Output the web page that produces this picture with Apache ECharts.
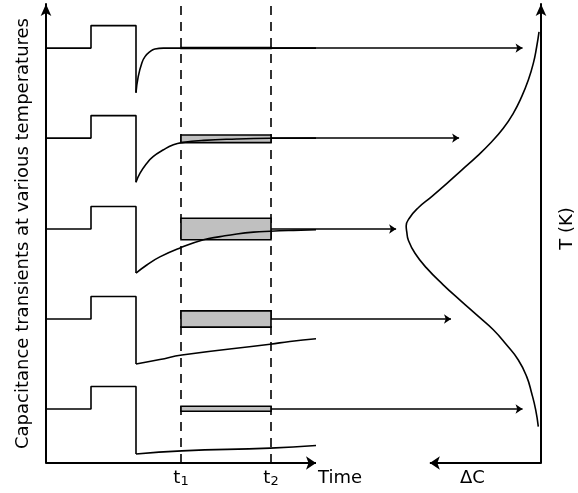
<!DOCTYPE html>
<html><head><meta charset="utf-8">
<script src="https://cdn.jsdelivr.net/npm/echarts@6/dist/echarts.min.js"></script>
<style>html,body{margin:0;padding:0;background:#fff}#c{width:578px;height:493px}</style>
</head><body><div id="c"></div>
<script>
// ---- tick labels / names ----
const tickValues = [30, 50];
const tickLabels = [['t','1'], ['t','2']];
const leftTitle = 'Capacitance transients at various temperatures';
const rightTitle = 'T (K)';
const timeLabel = 'Time';
const dcLabel = '\u0394C';

// ---- transients: [time, capacitance] (one row per temperature) ----
const pulse1 = [[0,92.2],[10,92.2],[10,97.2],[20,97.2],[20,82.3]];
const pulse2 = [[0,72.2],[10,72.2],[10,77.2],[20,77.2],[20,62.4]];
const pulse3 = [[0,52.0],[10,52.0],[10,57.0],[20,57.0],[20,42.2]];
const pulse4 = [[0,32.0],[10,32.0],[10,37.0],[20,37.0],[20,22.0]];
const pulse5 = [[0,12.0],[10,12.0],[10,17.0],[20,17.0],[20,2.0]];

const decay1 = [[20,82.3],[20.5,85.9],[21.3,88.9],[22,90.3],[23.1,91.4],[24.2,92.0],[26.1,92.2],[30,92.2],[60,92.2]];
const decay2 = [[20,62.4],[20.9,64.4],[22.4,66.6],[23.8,68.1],[26.1,69.6],[28.3,70.7],[30.2,71.2],[35,71.7],[42.4,72.0],[49.8,72.15],[60,72.2]];
const decay3 = [[20,42.2],[22.4,44.0],[25.3,45.8],[29.8,47.8],[35,49.6],[38.7,50.3],[42.4,50.9],[46.1,51.3],[49.8,51.5],[55,51.7],[60,51.85]];
const decay4 = [[20,22.0],[25.3,23.0],[30.2,24.0],[49.8,26.4],[54.2,27.0],[60,27.6]];
const decay5 = [[20,2.0],[30.2,2.7],[49.8,3.3],[60,3.9]];

// ---- rate-window boxes: [t1, t2, low, high] ----
const boxes = [[30,50,92.1,92.3],[30,50,71.2,72.9],[30,50,49.6,54.4],[30,50,30.2,33.8],[30,50,11.5,12.6]];

// ---- arrows from each row to the DLTS spectrum: [startTime, level, endTime] ----
const rowArrows = [[50,92.2,105.9],[50,72.2,91.8],[50,52.0,77.8],[50,32.0,90.0],[50,12.0,105.9]];

// ---- DLTS spectrum: [deltaC, T] ----
const spectrum = [[0.6,8.1],[1.18,11.8],[2.07,15.5],[3.18,19.2],[5.04,22.9],[7.62,26.2],[10.6,29.6],[14.29,32.9],[18.0,36.2],[21.73,39.6],[25.4,43.3],[28.0,46.6],[29.49,49.56],[29.82,51.33],[29.96,52.67],[29.22,54.44],[27.33,56.67],[24.29,59.2],[20.96,62.1],[17.62,65.1],[14.29,68.1],[11.33,71.0],[8.38,74.4],[6.16,77.7],[4.29,81.4],[2.82,85.1],[1.71,88.8],[0.96,92.5],[0.44,95.8]];

// ---- axes arrows / window lines ----
const timeAxis = [[0,0],[60,0]];
const dcAxis = [[0,0],[24.7,0]];
const windowLines = [[[30,0],[30,102.9]],[[50,0],[50,102.9]]];

const FONT = 'DejaVu Sans';
const BLACK = '#000';
const chart = echarts.init(document.getElementById('c'), null, {renderer:'canvas'});

const pulses = [pulse1,pulse2,pulse3,pulse4,pulse5];
const decays = [decay1,decay2,decay3,decay4,decay5];
const series = [];
pulses.forEach(p => series.push({type:'line', data:p, xAxisIndex:0, yAxisIndex:0, symbol:'none', clip:false, z:5,
  lineStyle:{color:BLACK, width:1.6}, silent:true, animation:false}));
decays.forEach(d => series.push({type:'line', data:d, xAxisIndex:0, yAxisIndex:0, symbol:'none', clip:false, z:5,
  smooth:0.5, lineStyle:{color:BLACK, width:1.6}, silent:true, animation:false}));
series.push({type:'custom', xAxisIndex:0, yAxisIndex:0, clip:false, z:4, data:boxes, silent:true, animation:false,
  renderItem:(params, api) => {
    const p1 = api.coord([api.value(0), api.value(3)]);
    const p2 = api.coord([api.value(1), api.value(2)]);
    return {type:'rect', shape:{x:p1[0], y:p1[1], width:p2[0]-p1[0], height:p2[1]-p1[1]},
      style:{fill:'#c0c0c0', stroke:BLACK, lineWidth:1.6}};
  }});
series.push({type:'lines', coordinateSystem:'cartesian2d', xAxisIndex:0, yAxisIndex:0, clip:false, z:1, silent:true, animation:false,
  symbol:'none', lineStyle:{color:BLACK, width:1.6, opacity:1, type:[9,7]},
  data: windowLines.map(c => ({coords:c}))});
series.push({type:'lines', coordinateSystem:'cartesian2d', xAxisIndex:0, yAxisIndex:0, clip:false, z:3, silent:true, animation:false,
  symbol:['none','arrow'], symbolSize:7, lineStyle:{color:BLACK, width:1.6, opacity:1},
  data: rowArrows.map(a => ({coords:[[a[0],a[1]],[a[2],a[1]]]}))});
series.push({type:'lines', coordinateSystem:'cartesian2d', xAxisIndex:0, yAxisIndex:0, clip:false, z:6, silent:true, animation:false,
  symbol:['none','arrow'], symbolSize:10, lineStyle:{color:BLACK, width:2, opacity:1},
  data: [{coords:timeAxis}]});
series.push({type:'lines', coordinateSystem:'cartesian2d', xAxisIndex:1, yAxisIndex:0, clip:false, z:6, silent:true, animation:false,
  symbol:['none','arrow'], symbolSize:10, lineStyle:{color:BLACK, width:2, opacity:1},
  data: [{coords:dcAxis}]});
series.push({type:'line', data:spectrum, xAxisIndex:1, yAxisIndex:0, symbol:'none', clip:false, z:5,
  smooth:0.5, lineStyle:{color:BLACK, width:1.6}, silent:true, animation:false});

const yBase = {type:'value', min:0, max:102, splitLine:{show:false}, axisTick:{show:false}, axisLabel:{show:false},
  axisLine:{show:true, onZero:false, symbol:['none','arrow'], symbolSize:[8,12], lineStyle:{color:BLACK, width:2}},
  nameLocation:'middle', nameRotate:90, nameMoveOverlap:false, nameTextStyle:{fontSize:18, fontFamily:FONT, color:BLACK}};

chart.setOption({
  animation:false,
  backgroundColor:'#fff',
  grid:{left:46, right:37, top:4, bottom:30, containLabel:false, outerBoundsMode:'none'},
  xAxis:[
    {type:'value', min:0, max:110, position:'bottom', splitLine:{show:false}, axisLine:{show:false}, axisTick:{show:false},
     axisLabel:{show:true, customValues:tickValues, margin:6, color:BLACK,
       formatter:(v) => { const l = tickLabels[tickValues.indexOf(v)]; return l ? '{t|' + l[0] + '}{s|' + l[1] + '}' : ''; },
       rich:{t:{fontSize:18, fontFamily:FONT, color:BLACK, verticalAlign:'top', lineHeight:22},
             s:{fontSize:13, fontFamily:FONT, color:BLACK, verticalAlign:'top', lineHeight:22, padding:[6,0,0,0]}}}},
    {type:'value', min:0, max:110, inverse:true, position:'top', show:false}
  ],
  yAxis:[
    Object.assign({}, yBase, {position:'left', name:leftTitle, nameGap:14}),
    Object.assign({}, yBase, {position:'right', name:rightTitle, nameGap:17,
      nameTextStyle:{fontSize:18, fontFamily:FONT, color:BLACK, padding:[0,0,0,10]}})
  ],
  graphic:[
    {type:'text', left:318, top:469, style:{text:timeLabel, fontSize:18, fontFamily:FONT, fill:BLACK}},
    {type:'text', left:460, top:469, style:{text:dcLabel, fontSize:18, fontFamily:FONT, fill:BLACK}}
  ],
  series: series
});
</script></body></html>
